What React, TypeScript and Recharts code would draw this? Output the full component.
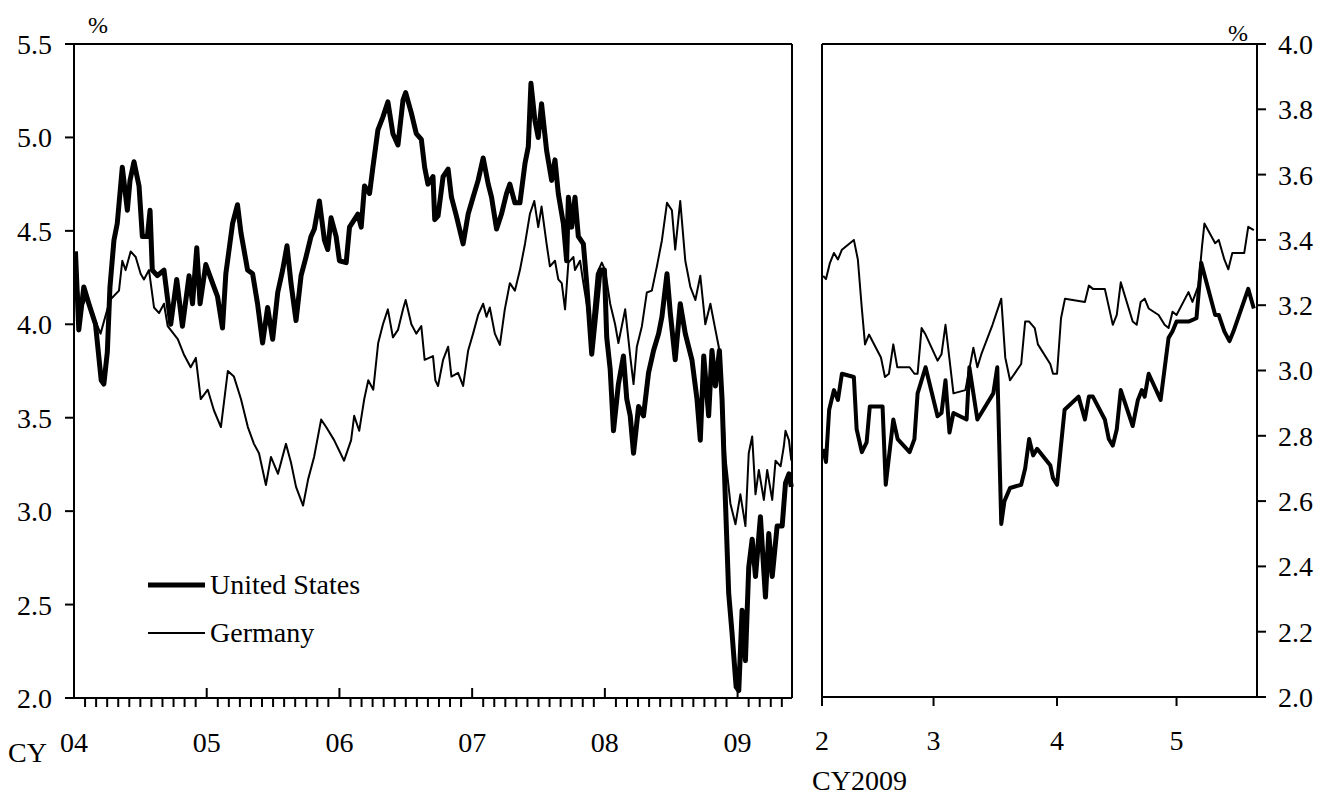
import React from 'react';
import { LineChart, Line, XAxis, YAxis, ReferenceLine, Legend } from 'recharts';

const FONT = '"Liberation Serif", "Times New Roman", serif';

// Long-run panel: time in years after 1 Jan 2004, 10-year yields in %
const usLongT = [
  0.011, 0.036, 0.074, 0.112, 0.162, 0.205, 0.225, 0.251, 0.271, 0.301, 0.326, 0.364, 0.402, 0.422,
  0.452, 0.49, 0.515, 0.553, 0.573, 0.59, 0.628, 0.678, 0.729, 0.774, 0.817, 0.867, 0.893, 0.925,
  0.95, 0.993, 1.044, 1.081, 1.119, 1.144, 1.195, 1.232, 1.258, 1.308, 1.346, 1.383, 1.421, 1.459,
  1.497, 1.535, 1.572, 1.605, 1.635, 1.673, 1.711, 1.748, 1.786, 1.811, 1.849, 1.887, 1.912, 1.937,
  1.975, 2.0, 2.051, 2.076, 2.139, 2.164, 2.189, 2.227, 2.252, 2.29, 2.328, 2.365, 2.403, 2.441,
  2.479, 2.499, 2.542, 2.579, 2.617, 2.642, 2.667, 2.705, 2.718, 2.743, 2.781, 2.819, 2.844, 2.881,
  2.932, 2.97, 3.007, 3.045, 3.083, 3.121, 3.146, 3.184, 3.221, 3.259, 3.284, 3.322, 3.36, 3.398,
  3.423, 3.443, 3.473, 3.498, 3.523, 3.561, 3.599, 3.624, 3.649, 3.687, 3.712, 3.725, 3.75, 3.775,
  3.8, 3.838, 3.863, 3.901, 3.939, 3.964, 3.997, 4.014, 4.04, 4.065, 4.102, 4.14, 4.165, 4.191,
  4.216, 4.254, 4.291, 4.329, 4.367, 4.405, 4.43, 4.468, 4.493, 4.53, 4.568, 4.606, 4.656, 4.694,
  4.719, 4.745, 4.782, 4.807, 4.833, 4.863, 4.883, 4.908, 4.933, 4.958, 4.989, 5.009, 5.034, 5.059,
  5.084, 5.11, 5.135, 5.172, 5.21, 5.235, 5.261, 5.298, 5.336, 5.361, 5.387, 5.405,
];
const usLongYield = [
  4.39, 3.97, 4.2, 4.11, 4.0, 3.7, 3.68, 3.85, 4.2, 4.45, 4.54, 4.84, 4.61, 4.77,
  4.87, 4.74, 4.47, 4.47, 4.61, 4.29, 4.26, 4.29, 4.0, 4.24, 3.99, 4.26, 4.11, 4.41,
  4.11, 4.32, 4.22, 4.15, 3.98, 4.27, 4.54, 4.64, 4.49, 4.29, 4.27, 4.11, 3.9, 4.09,
  3.92, 4.17, 4.29, 4.42, 4.22, 4.02, 4.26, 4.36, 4.47, 4.51, 4.66, 4.45, 4.4, 4.57,
  4.47, 4.34, 4.33, 4.52, 4.59, 4.52, 4.74, 4.7, 4.84, 5.04, 5.11, 5.19, 5.02, 4.96,
  5.2, 5.24, 5.13, 5.02, 4.99, 4.84, 4.75, 4.79, 4.56, 4.58, 4.79, 4.83, 4.68, 4.58,
  4.43, 4.59, 4.68, 4.77, 4.89, 4.75, 4.68, 4.51, 4.59, 4.7, 4.75, 4.65, 4.65, 4.86,
  4.95, 5.29, 5.09, 5.0, 5.18, 4.93, 4.77, 4.88, 4.7, 4.54, 4.34, 4.68, 4.52, 4.68,
  4.47, 4.43, 4.22, 3.84, 4.11, 4.29, 4.29, 3.93, 3.76, 3.43, 3.68, 3.83, 3.6, 3.51,
  3.31, 3.56, 3.51, 3.74, 3.86, 3.95, 4.04, 4.27, 4.06, 3.81, 4.11, 3.95, 3.81, 3.6,
  3.38, 3.83, 3.51, 3.86, 3.67, 3.86, 3.6, 3.06, 2.56, 2.35, 2.06, 2.04, 2.47, 2.2,
  2.7, 2.85, 2.65, 2.97, 2.54, 2.88, 2.65, 2.92, 2.92, 3.15, 3.2, 3.13,
];

const deLongT = [
  0.011, 0.049, 0.099, 0.15, 0.2, 0.271, 0.339, 0.364, 0.389, 0.427, 0.465, 0.502, 0.527, 0.565,
  0.603, 0.641, 0.678, 0.706, 0.782, 0.827, 0.879, 0.918, 0.955, 1.008, 1.054, 1.107, 1.159, 1.205,
  1.258, 1.31, 1.356, 1.394, 1.446, 1.484, 1.537, 1.597, 1.635, 1.673, 1.726, 1.764, 1.809, 1.862,
  1.9, 1.96, 2.035, 2.088, 2.111, 2.149, 2.187, 2.217, 2.255, 2.292, 2.328, 2.365, 2.403, 2.441,
  2.479, 2.499, 2.542, 2.579, 2.617, 2.642, 2.705, 2.723, 2.743, 2.781, 2.819, 2.844, 2.894, 2.932,
  2.97, 3.007, 3.045, 3.083, 3.108, 3.133, 3.171, 3.209, 3.246, 3.284, 3.322, 3.36, 3.398, 3.435,
  3.468, 3.498, 3.523, 3.561, 3.586, 3.624, 3.649, 3.675, 3.7, 3.725, 3.763, 3.775, 3.813, 3.838,
  3.863, 3.896, 3.939, 3.977, 4.002, 4.04, 4.077, 4.102, 4.153, 4.191, 4.216, 4.241, 4.279, 4.316,
  4.354, 4.392, 4.43, 4.468, 4.505, 4.53, 4.568, 4.606, 4.644, 4.682, 4.719, 4.757, 4.795, 4.833,
  4.858, 4.883, 4.908, 4.946, 4.984, 5.021, 5.059, 5.084, 5.11, 5.135, 5.16, 5.198, 5.223, 5.261,
  5.286, 5.324, 5.349, 5.361, 5.387, 5.405,
];
const deLongYield = [
  4.29, 4.08, 4.15, 4.04, 3.95, 4.13, 4.18, 4.34, 4.29, 4.39, 4.36, 4.27, 4.24, 4.29,
  4.09, 4.06, 4.11, 3.99, 3.92, 3.84, 3.77, 3.82, 3.6, 3.65, 3.54, 3.45, 3.75, 3.72,
  3.6, 3.45, 3.36, 3.31, 3.14, 3.29, 3.2, 3.36, 3.26, 3.13, 3.03, 3.17, 3.29, 3.49,
  3.45, 3.38, 3.27, 3.38, 3.51, 3.43, 3.6, 3.7, 3.65, 3.9, 4.0, 4.08, 3.93, 3.97,
  4.08, 4.13, 4.0, 3.95, 3.99, 3.81, 3.83, 3.7, 3.67, 3.81, 3.88, 3.72, 3.74, 3.67,
  3.86, 3.95, 4.05, 4.11, 4.04, 4.09, 3.95, 3.89, 4.08, 4.22, 4.18, 4.29, 4.43, 4.59,
  4.66, 4.52, 4.63, 4.43, 4.31, 4.34, 4.24, 4.22, 4.08, 4.33, 4.36, 4.29, 4.34, 4.22,
  4.11, 3.93, 4.27, 4.33, 4.29, 4.11, 4.0, 3.9, 4.08, 3.83, 3.68, 3.88, 3.99, 4.17,
  4.18, 4.31, 4.45, 4.65, 4.61, 4.4, 4.66, 4.34, 4.2, 4.13, 4.26, 4.0, 4.11, 3.97,
  3.88, 3.67, 3.29, 3.04, 2.93, 3.09, 2.92, 3.31, 3.4, 3.09, 3.22, 3.06, 3.22, 3.06,
  3.27, 3.24, 3.35, 3.43, 3.38, 3.27,
];

// 2009 panel: days after 1 Feb 2009
const usDays = [
  0.3, 1, 1.8, 3, 4, 5, 8, 8.7, 10, 11.2, 12, 15.2, 16, 17.9, 19, 22, 23.2, 24, 26, 29, 30, 31, 32,
  33, 36.3, 37, 39, 40, 43, 44, 45, 45.8, 47.2, 50, 51, 52, 53, 54, 57.3, 58, 59, 60.9, 64.4, 66,
  67, 68, 71, 72, 73, 74, 75, 78, 79.3, 80.3, 81, 82, 85, 87, 88, 89, 92, 94, 95.2, 98.7, 99.6,
  101, 102.3, 103.3, 107, 108.4,
];
const usRecent = [
  2.76, 2.72, 2.88, 2.94, 2.91, 2.99, 2.98, 2.82, 2.75, 2.78, 2.89, 2.89, 2.65, 2.85, 2.79, 2.75,
  2.79, 2.93, 3.01, 2.86, 2.87, 2.97, 2.81, 2.87, 2.85, 3.01, 2.85, 2.87, 2.93, 3.01, 2.53, 2.6,
  2.64, 2.65, 2.7, 2.79, 2.74, 2.76, 2.71, 2.67, 2.65, 2.88, 2.92, 2.85, 2.92, 2.92, 2.85, 2.79,
  2.77, 2.82, 2.94, 2.83, 2.91, 2.94, 2.92, 2.99, 2.91, 3.1, 3.12, 3.15, 3.15, 3.16, 3.33, 3.17,
  3.17, 3.12, 3.09, 3.12, 3.25, 3.19,
];

const deDays = [
  0.3, 1, 2, 3, 4, 5, 8, 9, 10, 10.8, 11.8, 14.8, 15.8, 16.8, 17.9, 18.9, 22, 23.2, 24, 25, 26, 29,
  30, 31, 33, 36, 38, 39, 40, 42.8, 45, 46, 47.2, 50, 51, 52, 53.4, 54.2, 57.3, 58, 59, 60, 61, 66,
  67, 68, 71, 73, 74, 75, 78, 79, 80, 81, 82, 84.5, 85, 86, 87, 88, 89, 92, 93, 94.5, 95.4, 96,
  98.7, 99.6, 101, 102, 103, 106, 107, 108.4,
];
const deRecent = [
  3.29, 3.28, 3.33, 3.36, 3.34, 3.37, 3.4, 3.34, 3.19, 3.08, 3.11, 3.04, 2.98, 2.99, 3.08, 3.01,
  3.01, 2.99, 2.99, 3.13, 3.11, 3.03, 3.05, 3.14, 2.93, 2.94, 3.07, 3.01, 3.05, 3.14, 3.22, 3.04,
  2.97, 3.02, 3.15, 3.15, 3.13, 3.08, 3.02, 2.99, 2.99, 3.16, 3.22, 3.21, 3.26, 3.25, 3.25, 3.14,
  3.17, 3.27, 3.15, 3.14, 3.21, 3.22, 3.19, 3.17, 3.16, 3.14, 3.13, 3.18, 3.17, 3.24, 3.21, 3.26,
  3.38, 3.45, 3.39, 3.4, 3.34, 3.31, 3.36, 3.36, 3.44, 3.43,
];

const seriesNames = ['United States', 'Germany'];
const yearTicks = [2004, 2005, 2006, 2007, 2008, 2009];
const yearLabels = ['04', '05', '06', '07', '08', '09'];
const longYTicks = [2.0, 2.5, 3.0, 3.5, 4.0, 4.5, 5.0, 5.5];
const monthStarts = [0, 28, 59, 89];
const monthLabels = ['2', '3', '4', '5'];
const recentYTicks = [2.0, 2.2, 2.4, 2.6, 2.8, 3.0, 3.2, 3.4, 3.6, 3.8, 4.0];

const LONG_END = 2009.41;
const RECENT_END = 109.2;

const usLong = usLongT.map((t, i) => ({ t: 2004 + t, v: usLongYield[i] }));
const deLong = deLongT.map((t, i) => ({ t: 2004 + t, v: deLongYield[i] }));
const usShort = usDays.map((d, i) => ({ t: d, v: usRecent[i] }));
const deShort = deDays.map((d, i) => ({ t: d, v: deRecent[i] }));

// every month start; year starts get a label and an inward tick
const longXTicks: number[] = [];
yearTicks.forEach((y) => {
  for (let m = 0; m < 12; m++) {
    const t = y + m / 12;
    if (t < LONG_END - 0.05) longXTicks.push(t);
  }
});

const axisStyle = { stroke: '#000', strokeWidth: 2 };
const tickText = { fill: '#000', fontSize: 28, fontFamily: FONT };

function YearMonthTick(props: any) {
  const { x, y, payload } = props;
  const v = payload.value as number;
  const yr = Math.round(v);
  if (Math.abs(v - yr) < 1e-6) {
    return (
      <g>
        <line x1={x} y1={y} x2={x} y2={y - 10} stroke="#000" strokeWidth={2} />
        <text x={x} y={y + 54} textAnchor="middle" {...tickText}>
          {yearLabels[yearTicks.indexOf(yr)]}
        </text>
      </g>
    );
  }
  return <line x1={x} y1={y} x2={x} y2={y + 9} stroke="#000" strokeWidth={2} />;
}

function LegendBox(props: any) {
  const items = [...(props.payload || [])].sort(
    (a: any, b: any) => seriesNames.indexOf(a.value) - seriesNames.indexOf(b.value)
  );
  return (
    <div>
      {items.map((entry: any) => (
        <div key={entry.value} style={{ display: 'flex', alignItems: 'center', height: 48 }}>
          <svg width={62} height={48}>
            <line x1={0} y1={24} x2={57} y2={24} stroke="#000" strokeWidth={entry.payload.strokeWidth} />
          </svg>
          <span style={{ fontFamily: FONT, fontSize: 28, color: '#000', lineHeight: '48px' }}>{entry.value}</span>
        </div>
      ))}
    </div>
  );
}

export default function App() {
  return (
    <div style={{ position: 'absolute', left: 0, top: 0, width: 1322, height: 798, background: '#fff' }}>
      <div style={{ position: 'absolute', left: 0, top: 0 }}>
        <LineChart width={800} height={798} margin={{ top: 44, right: 8, bottom: 0, left: 0 }}>
          <XAxis
            type="number"
            dataKey="t"
            domain={[2004, LONG_END]}
            ticks={longXTicks}
            interval={0}
            height={100}
            tickSize={0}
            tickMargin={0}
            tickLine={false}
            axisLine={axisStyle}
            tick={<YearMonthTick />}
          />
          <YAxis
            type="number"
            domain={[2, 5.5]}
            ticks={longYTicks}
            interval={0}
            width={74}
            tickSize={9}
            tickMargin={13}
            axisLine={axisStyle}
            tickLine={axisStyle}
            tick={tickText}
            tickFormatter={(v: number) => v.toFixed(1)}
            allowDataOverflow
          />
          <ReferenceLine y={5.5} stroke="#000" strokeWidth={2} />
          <ReferenceLine x={LONG_END} stroke="#000" strokeWidth={2} />
          <Line
            data={usLong}
            dataKey="v"
            name={seriesNames[0]}
            type="linear"
            stroke="#000"
            strokeWidth={5}
            strokeLinejoin="round"
            dot={false}
            isAnimationActive={false}
          />
          <Line
            data={deLong}
            dataKey="v"
            name={seriesNames[1]}
            type="linear"
            stroke="#000"
            strokeWidth={2}
            strokeLinejoin="round"
            dot={false}
            isAnimationActive={false}
          />
          <Legend
            layout="vertical"
            align="center"
            verticalAlign="middle"
            wrapperStyle={{ left: 148, top: 561, width: 260 }}
            content={<LegendBox />}
          />
        </LineChart>
      </div>

      <div style={{ position: 'absolute', left: 800, top: 0 }}>
        <LineChart width={522} height={798} margin={{ top: 44, right: 0, bottom: 0, left: 22 }}>
          <XAxis
            type="number"
            dataKey="t"
            domain={[0, RECENT_END]}
            ticks={monthStarts}
            interval={0}
            height={101}
            tickSize={9}
            tickMargin={24}
            axisLine={axisStyle}
            tickLine={axisStyle}
            tick={tickText}
            tickFormatter={(v: number) => monthLabels[monthStarts.indexOf(v)]}
          />
          <YAxis
            type="number"
            orientation="right"
            domain={[2, 4]}
            ticks={recentYTicks}
            interval={0}
            width={65}
            tickSize={9}
            tickMargin={12}
            axisLine={axisStyle}
            tickLine={axisStyle}
            tick={tickText}
            tickFormatter={(v: number) => v.toFixed(1)}
            allowDataOverflow
          />
          <ReferenceLine y={4} stroke="#000" strokeWidth={2} />
          <ReferenceLine x={0} stroke="#000" strokeWidth={2} />
          <Line
            data={usShort}
            dataKey="v"
            name={seriesNames[0]}
            type="linear"
            stroke="#000"
            strokeWidth={4}
            strokeLinejoin="round"
            dot={false}
            isAnimationActive={false}
          />
          <Line
            data={deShort}
            dataKey="v"
            name={seriesNames[1]}
            type="linear"
            stroke="#000"
            strokeWidth={2}
            strokeLinejoin="round"
            dot={false}
            isAnimationActive={false}
          />
        </LineChart>
      </div>

      <svg width={1322} height={798} style={{ position: 'absolute', left: 0, top: 0, pointerEvents: 'none' }}>
        <text x={98} y={33} textAnchor="middle" fontSize={24} fontFamily={FONT} fill="#000">%</text>
        <text x={1238} y={41} textAnchor="middle" fontSize={24} fontFamily={FONT} fill="#000">%</text>
        <text x={8} y={762} fontSize={28} fontFamily={FONT} fill="#000">CY</text>
        <text x={812} y={790} fontSize={28} fontFamily={FONT} fill="#000">CY2009</text>
      </svg>
    </div>
  );
}
